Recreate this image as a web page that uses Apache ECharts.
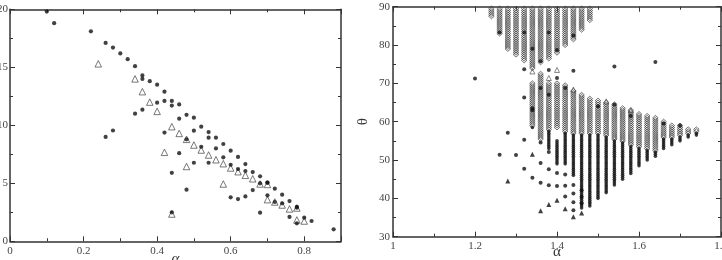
<!DOCTYPE html>
<html><head><meta charset="utf-8">
<script src="https://cdn.jsdelivr.net/npm/echarts@6/dist/echarts.min.js"></script>
<style>html,body{margin:0;padding:0;background:#fff}#c{width:722px;height:260px}</style>
</head><body><div id="c"></div>
<script>
// ---------- LEFT PANEL DATA ----------
const leftDots = [
 [0.10,19.8],[0.12,18.8],[0.22,18.1],[0.26,17.1],[0.28,16.7],[0.30,16.2],[0.32,15.7],[0.34,15.1],
 [0.36,14.3],[0.36,14.0],[0.38,13.8],[0.40,13.5],[0.42,12.9],[0.44,12.1],[0.44,11.7],[0.46,11.8],
 [0.48,10.9],[0.50,10.66],[0.52,9.88],[0.54,9.42],[0.56,8.93],[0.58,8.39],[0.60,7.81],[0.62,7.27],
 [0.64,6.66],[0.66,5.97],[0.68,5.6],[0.70,5.05],[0.72,4.54],[0.74,4.02],[0.76,3.47],[0.78,2.98],
 [0.82,1.75],[0.88,1.03],
 [0.34,11.0],[0.36,11.35],[0.40,11.95],[0.42,12.1],[0.46,10.57],[0.50,9.54],[0.54,8.93],[0.56,8.01],
 [0.58,7.24],[0.52,8.15],[0.60,6.6],[0.62,6.23],[0.64,6.06],[0.68,5.0],[0.70,5.05],[0.78,2.9],
 [0.26,9.0],[0.28,9.55],[0.42,9.37],[0.46,7.6],[0.44,5.9],[0.48,4.45],[0.50,6.77],[0.54,6.77],
 [0.48,8.79],[0.66,4.42],[0.60,3.79],[0.62,3.64],[0.64,3.87],[0.68,2.47],[0.70,3.96],[0.72,3.39],
 [0.74,3.27],[0.76,2.1],[0.78,1.55],[0.80,2.04],[0.44,2.5]
];
const leftTriangles = [
 [0.24,15.3],[0.34,14.0],[0.36,12.9],[0.38,12.0],[0.40,11.2],[0.44,9.88],[0.46,9.3],[0.42,7.67],
 [0.48,8.79],[0.50,8.3],[0.52,7.87],[0.54,7.44],[0.56,7.03],[0.58,6.69],[0.60,6.32],[0.62,6.0],
 [0.64,5.69],[0.66,5.39],[0.68,4.94],[0.70,4.9],[0.48,6.45],[0.58,4.94],[0.70,3.59],[0.72,3.39],
 [0.74,3.13],[0.76,2.79],[0.78,2.87],[0.78,1.84],[0.80,1.75],[0.44,2.35]
];
const leftXTicks = [0, 0.2, 0.4, 0.6, 0.8];
const leftYTicks = [0, 5, 10, 15, 20];

// ---------- RIGHT PANEL DATA ----------
// upper fan of columns (hollow markers from 90 down to upperLow)
const upperAlpha = [1.24,1.26,1.28,1.30,1.32,1.34,1.36,1.38,1.40,1.42,1.44,1.46,1.48];
const upperLow   = [87.5,83.0,78.8,77.2,75.7,74.0,75.3,76.3,77.8,80.0,81.5,84.0,86.5];
// lower cone of columns
const lowerAlpha     = [1.34,1.36,1.38,1.40,1.42,1.44,1.46,1.48,1.50,1.52,1.54,1.56,1.58,1.60,1.62,1.64,1.66,1.68,1.70,1.72,1.74];
const lowerTop       = [70.0,72.5,70.0,70.0,69.5,68.3,67.0,66.3,65.7,65.3,64.5,63.8,63.0,62.2,61.8,61.0,60.0,59.4,59.0,58.4,58.0];
const lowerHollowEnd = [59.0,55.5,58.0,58.5,57.5,57.0,57.0,57.0,57.0,56.5,55.5,55.0,54.0,53.5,53.0,52.5,56.0,56.0,56.5,57.0,57.5];
const lowerFillStart = [58.5,null,57.5,55.0,57.0,56.5,56.5,56.5,56.5,56.0,55.0,54.5,53.5,53.0,52.5,52.0,55.5,55.5,56.0,56.5,57.0];
const lowerBottom    = [58.5,null,53.0,49.0,48.7,46.0,37.5,37.9,39.6,41.3,43.5,44.8,46.5,48.3,49.6,50.9,52.6,53.9,54.8,55.6,56.5];
const thetaStep = 0.5;
// isolated filled points
const rightDots = [
 [1.20,71.3],[1.26,51.4],[1.28,57.1],[1.30,51.3],[1.32,73.7],[1.32,66.3],[1.32,55.3],[1.32,47.7],
 [1.34,45.4],[1.36,54.6],[1.36,49.2],[1.36,44.1],[1.38,73.5],[1.38,52.1],[1.38,47.6],[1.38,43.4],
 [1.40,71.4],[1.40,46.6],[1.40,43.2],[1.42,46.2],[1.42,43.3],[1.42,40.5],[1.44,73.3],[1.44,43.5],
 [1.44,41.3],[1.44,39.0],[1.44,36.9],[1.46,42.1],[1.46,40.4],[1.46,38.7],[1.54,74.4],[1.64,75.6],
 [1.26,83.3],[1.32,83.3],[1.34,79.0],[1.36,75.8],[1.38,83.3],[1.40,78.7],[1.44,82.5],
 [1.34,63.5],[1.34,63.0],[1.36,68.8],[1.38,67.0],[1.42,68.8],[1.50,64.0],[1.54,64.5],[1.58,61.5],
 [1.66,59.5],[1.70,59.0]
];
const rightFilledTriangles = [
 [1.28,44.5],[1.34,51.5],[1.36,36.8],[1.38,38.4],[1.40,39.5],[1.42,37.3],[1.44,35.2],[1.46,36.2]
];
const rightOpenTriangles = [
 [1.34,73.1],[1.38,71.4],[1.40,73.5],[1.44,68.4],[1.52,65.3],[1.58,63.0]
];
const rightXTicks = [1, 1.2, 1.4, 1.6, 1.8];
const rightYTicks = [30, 40, 50, 60, 70, 80, 90];

// expand a column sweep [lo, hi] at the sampling step of the parameter scan
function sweep(alpha, lo, hi, out) {
  if (lo == null || hi == null) return;
  for (let t = Math.ceil(lo / thetaStep) * thetaStep; t <= hi + 1e-9; t += thetaStep) out.push([alpha, t]);
}
const hollowPts = [], filledPts = [];
upperAlpha.forEach((a, i) => sweep(a, upperLow[i], 89.5, hollowPts));
lowerAlpha.forEach((a, i) => {
  sweep(a, lowerHollowEnd[i], lowerTop[i], hollowPts);
  sweep(a, lowerBottom[i], lowerFillStart[i], filledPts);
});

// ---------- CHART ----------
const FONT = 'Liberation Serif';
const AX = '#333';
function axisBase(extra) {
  return Object.assign({
    type: 'value',
    nameMoveOverlap: false,
    axisLine: { show: true, onZero: false, lineStyle: { color: AX, width: 1.5 } },
    axisTick: { show: true, inside: true, length: 5, lineStyle: { color: AX, width: 1 } },
    minorTick: { show: true, splitNumber: 2, length: 3, lineStyle: { color: AX, width: 1 } },
    splitLine: { show: false },
    minorSplitLine: { show: false },
    axisLabel: { show: true, fontFamily: FONT, fontSize: 11, color: '#444', margin: 4 }
  }, extra);
}
function mirror(ax) {
  const m = JSON.parse(JSON.stringify(ax));
  m.axisLabel = { show: false };
  m.name = '';
  return m;
}
const lx = axisBase({ min: leftXTicks[0], max: 0.9, interval: 0.2, position: 'bottom',
  axisLabel: { show: true, fontFamily: FONT, fontSize: 11, color: '#444', margin: 4,
    formatter: v => leftXTicks.some(t => Math.abs(t - v) < 1e-9) ? String(+v.toFixed(1)) : '' },
  name: 'α', nameLocation: 'middle', nameGap: 10,
  nameTextStyle: { fontFamily: FONT, fontSize: 15, fontStyle: 'italic', color: '#333' } });
const ly = axisBase({ min: leftYTicks[0], max: leftYTicks[leftYTicks.length - 1], interval: 5, position: 'left',
  axisLabel: { show: true, fontFamily: FONT, fontSize: 11, color: '#444', margin: 2 } });
const rx = axisBase({ min: rightXTicks[0], max: rightXTicks[rightXTicks.length - 1], interval: 0.2, position: 'bottom',
  axisLabel: { show: true, fontFamily: FONT, fontSize: 11, color: '#444', margin: 4, showMaxLabel: true,
    formatter: v => String(+v.toFixed(1)) },
  name: 'α', nameLocation: 'middle', nameGap: 8,
  nameTextStyle: { fontFamily: FONT, fontSize: 15, color: '#333' } });
const ry = axisBase({ min: rightYTicks[0], max: rightYTicks[rightYTicks.length - 1], interval: 10, position: 'left',
  axisLabel: { show: true, fontFamily: FONT, fontSize: 11, color: '#444', margin: 3 },
  name: 'θ', nameLocation: 'middle', nameGap: 22, nameRotate: 90,
  nameTextStyle: { fontFamily: FONT, fontSize: 15, color: '#333' } });

const lxTop = mirror(lx); lxTop.position = 'top';
const lyRight = mirror(ly); lyRight.position = 'right';
const rxTop = mirror(rx); rxTop.position = 'top';
const ryRight = mirror(ry); ryRight.position = 'right';

const chart = echarts.init(document.getElementById('c'), null, { renderer: 'canvas' });
chart.setOption({
  backgroundColor: '#fff',
  animation: false,
  grid: [
    { left: 10, top: 9.3, width: 331, height: 232, containLabel: false, outerBoundsMode: 'none' },
    { left: 393, top: 6.7, width: 328, height: 230, containLabel: false, outerBoundsMode: 'none' }
  ],
  xAxis: [lx, lxTop, rx, rxTop].map((a, i) => Object.assign(a, { gridIndex: i < 2 ? 0 : 1 })),
  yAxis: [ly, lyRight, ry, ryRight].map((a, i) => Object.assign(a, { gridIndex: i < 2 ? 0 : 1 })),
  series: [
    { type: 'scatter', xAxisIndex: 0, yAxisIndex: 0, data: leftTriangles, symbol: 'triangle', symbolSize: 6.5,
      itemStyle: { color: 'rgba(0,0,0,0)', borderColor: '#444', borderWidth: 0.9 } },
    { type: 'scatter', xAxisIndex: 0, yAxisIndex: 0, data: leftDots, symbol: 'circle', symbolSize: 4.2,
      itemStyle: { color: '#111' } },
    { type: 'scatter', xAxisIndex: 2, yAxisIndex: 2, data: hollowPts, symbol: 'diamond', symbolSize: [5.5, 5],
      itemStyle: { color: 'rgba(255,255,255,0)', borderColor: '#3a3a3a', borderWidth: 0.9 } },
    { type: 'scatter', xAxisIndex: 2, yAxisIndex: 2, data: filledPts, symbol: 'circle', symbolSize: 3.6,
      itemStyle: { color: '#111' } },
    { type: 'scatter', xAxisIndex: 2, yAxisIndex: 2, data: rightOpenTriangles, symbol: 'triangle', symbolSize: 5,
      itemStyle: { color: 'rgba(0,0,0,0)', borderColor: '#444', borderWidth: 0.8 } },
    { type: 'scatter', xAxisIndex: 2, yAxisIndex: 2, data: rightDots, symbol: 'circle', symbolSize: 4,
      itemStyle: { color: '#111' } },
    { type: 'scatter', xAxisIndex: 2, yAxisIndex: 2, data: rightFilledTriangles, symbol: 'triangle', symbolSize: 5,
      itemStyle: { color: '#111' } }
  ]
});
</script></body></html>
